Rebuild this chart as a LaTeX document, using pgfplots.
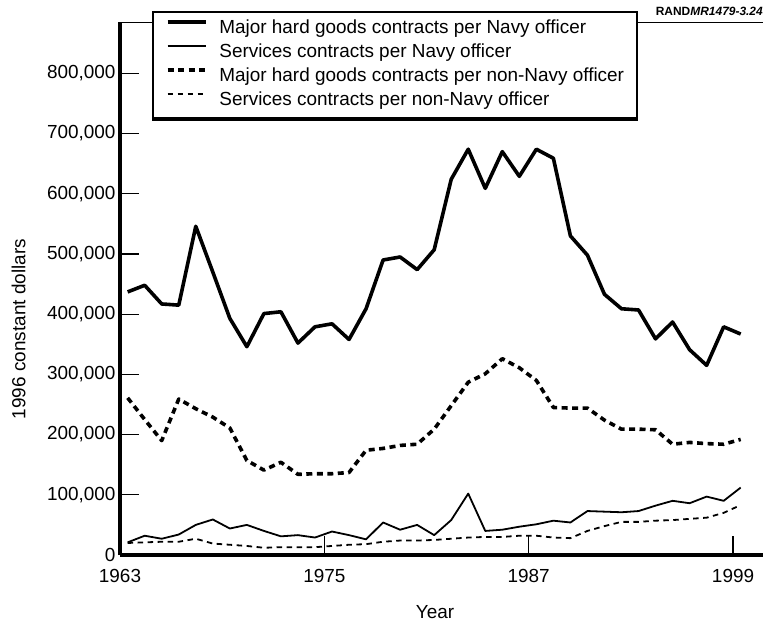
\documentclass[border=0pt]{standalone}
\usepackage{pgfplots}
\pgfplotsset{compat=1.18}
\usepackage{pgfplotstable}
\usepackage{fontspec}
\setmainfont{Liberation Sans}

% contract values per officer, 1996 constant dollars
\pgfplotstableread{
year mhgnavy svcnavy mhgother svcother
1963 437000 21000 261000 20000
1964 448000 32000 225000 21000
1965 417000 27000 190000 22000
1966 415000 34000 259000 22000
1967 546000 50000 243000 27000
1968 470000 59000 229000 19000
1969 393000 44000 211000 17000
1970 346000 50000 157000 15000
1971 401000 40000 141000 12000
1972 404000 31000 154000 13000
1973 352000 33000 134000 13000
1974 379000 29000 135000 13000
1975 384000 39000 135000 15000
1976 358000 33000 137000 17000
1977 409000 26000 174000 18000
1978 490000 54000 177000 22000
1979 495000 42000 182000 24000
1980 474000 50000 184000 24000
1981 507000 33000 209000 25000
1982 624000 58000 248000 27000
1983 674000 102000 287000 29000
1984 609000 40000 301000 30000
1985 670000 42000 326000 30000
1986 629000 47000 311000 32000
1987 674000 51000 290000 32000
1988 659000 57000 245000 29000
1989 530000 54000 244000 28000
1990 498000 73000 244000 40000
1991 433000 72000 224000 48000
1992 409000 71000 209000 55000
1993 407000 73000 209000 55000
1994 359000 82000 208000 57000
1995 387000 90000 184000 58000
1996 341000 86000 187000 60000
1997 315000 97000 185000 62000
1998 379000 90000 184000 70000
1999 367000 112000 192000 83000
}\contracts

\begin{document}
\begin{tikzpicture}
\useasboundingbox (0,0) rectangle (763bp,623bp);
\begin{axis}[
  at={(120bp,68bp)}, anchor=south west,
  scale only axis, width=643bp, height=532.8bp,
  xmin=1963, xmax=2000.76, ymin=0, ymax=885000,
  clip=false,
  axis x line*=bottom, axis y line*=left,
  axis line style={line width=3.6bp, -},
  tick align=inside, major tick length=19bp,
  tick style={line width=1.3bp, black},
  xtick={1963,1975,1987,1999},
  ytick={0,100000,200000,300000,400000,500000,600000,700000,800000},
  scaled y ticks=false,
  /pgf/number format/assume math mode=true,
  tick label style={font=\fontsize{19}{22}\selectfont},
  yticklabel style={/pgf/number format/fixed, /pgf/number format/1000 sep={,}, xshift=-1bp},
  xticklabel style={/pgf/number format/1000 sep={}, yshift=-11bp},
  xlabel={Year}, ylabel={1996 constant dollars},
  every axis x label/.style={at={(rel axis cs:0.49,0)}, anchor=base, yshift=-63bp,
    font=\fontsize{19}{22}\selectfont},
  every axis y label/.style={at={(rel axis cs:-0.147,0.424)}, rotate=90, anchor=base,
    font=\fontsize{19}{22}\selectfont},
  x filter/.expression={x+0.45},
  every axis plot/.append style={line join=round},
  legend cell align=left,
  legend image code/.code={\draw[#1] (0bp,6.5bp) -- (38bp,6.5bp);},
  legend style={name=leg, at={(rel axis cs:0.0498,1.021)}, anchor=north west,
    draw=black, line width=1.5bp, fill=white,
    inner xsep=13bp, inner ysep=8bp, row sep=6bp, column sep=12bp,
    font=\fontsize{19}{22}\selectfont,
    nodes={inner sep=0pt, text height=13.5bp, text depth=4.5bp}},
]
\addplot[black, line width=3.6bp] table[x=year, y=mhgnavy] {\contracts};
\addlegendentry{Major hard goods contracts per Navy officer}
\addplot[black, line width=1.8bp] table[x=year, y=svcnavy] {\contracts};
\addlegendentry{Services contracts per Navy officer}
\addplot[black, line width=3.6bp, dash pattern=on 6bp off 4.5bp] table[x=year, y=mhgother] {\contracts};
\addlegendentry{Major hard goods contracts per non-Navy officer}
\addplot[black, line width=1.8bp, dash pattern=on 5.5bp off 4.5bp] table[x=year, y=svcother] {\contracts};
\addlegendentry{Services contracts per non-Navy officer}
\draw[line width=1.3bp] (rel axis cs:0,1) -- (rel axis cs:1,1);
\node[anchor=base east, font=\fontsize{12}{14}\selectfont\bfseries, inner sep=0pt]
  at (rel axis cs:1,1.012) {RAND\textit{MR1479-3.24}};
\end{axis}
% heavier bottom edge of the legend box
\draw[line width=3.5bp] ([yshift=-1bp]leg.south west) -- ([yshift=-1bp]leg.south east);
\end{tikzpicture}
\end{document}
